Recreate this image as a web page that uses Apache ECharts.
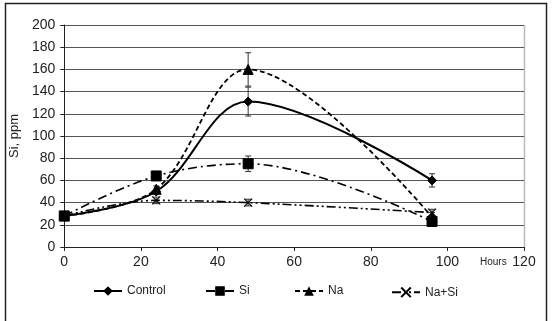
<!DOCTYPE html>
<html>
<head>
<meta charset="utf-8">
<script src="https://cdn.jsdelivr.net/npm/echarts@6/dist/echarts.min.js"></script>
<style>
html,body{margin:0;padding:0;background:#fff;}
#c{width:552px;height:321px;}
</style>
</head>
<body>
<div id="c"></div>
<script>
const hours = [0, 24, 48, 96];
const xTicks = [0, 20, 40, 60, 80, 100, 120];
const yTicks = [0, 20, 40, 60, 80, 100, 120, 140, 160, 180, 200];
const control = [28, 50, 131, 60];
const si = [28, 64, 75, 23];
const na = [28, 52, 160, 27];
const naSi = [28, 42, 40, 31];
const controlErr = [1, 2, 13, 6];
const siErr = [1, 4, 7, 2];
const naErr = [1, 3, 15, 4];
const naSiErr = [1, 3, 3, 3];
const names = ['Control', 'Si', 'Na', 'Na+Si'];

const chart = echarts.init(document.getElementById('c'), null, {renderer: 'canvas'});
const FONT = 'Liberation Sans, Arial, sans-serif';

function errData(vals, errs) {
  return hours.map((h, i) => [h, vals[i] - errs[i], vals[i] + errs[i]]);
}
function errSeries(vals, errs) {
  return {
    type: 'custom',
    silent: true,
    z: 1,
    data: errData(vals, errs),
    renderItem: function (params, api) {
      const x = api.value(0);
      const lo = api.coord([x, api.value(1)]);
      const hi = api.coord([x, api.value(2)]);
      const w = 3;
      const st = {stroke: '#333', lineWidth: 1, fill: null};
      return {
        type: 'group',
        children: [
          {type: 'line', shape: {x1: lo[0], y1: lo[1], x2: hi[0], y2: hi[1]}, style: st},
          {type: 'line', shape: {x1: lo[0] - w, y1: lo[1], x2: lo[0] + w, y2: lo[1]}, style: st},
          {type: 'line', shape: {x1: hi[0] - w, y1: hi[1], x2: hi[0] + w, y2: hi[1]}, style: st}
        ]
      };
    }
  };
}
function lineSeries(name, vals, symbol, size, dash, width) {
  return {
    name: name,
    type: 'line',
    smooth: 0.35,
    z: 3,
    data: hours.map((h, i) => [h, vals[i]]),
    symbol: symbol,
    symbolSize: size,
    showAllSymbol: true,
    itemStyle: {color: '#000', borderColor: '#000'},
    lineStyle: {color: '#000', width: width, type: dash}
  };
}
const xIcon = 'path://M0,0 L10,10 M10,0 L0,10';

function legendAt(name, left) {
  return {
    data: [name],
    left: left,
    top: 280,
    itemWidth: 28,
    itemHeight: 12,
    itemGap: 5,
    textStyle: {fontFamily: FONT, fontSize: 12, color: '#222'}
  };
}

chart.setOption({
  animation: false,
  backgroundColor: '#fff',
  grid: {left: 62, right: 28, top: 25, bottom: 74, show: false},
  legend: [legendAt('Control', 88), legendAt('Si', 200), legendAt('Na', 289), legendAt('Na+Si', 386)],
  xAxis: {
    type: 'value', min: 0, max: 120, interval: 20,
    axisLine: {show: true, lineStyle: {color: '#222', width: 1}},
    axisTick: {show: true, length: 4, lineStyle: {color: '#222'}},
    axisLabel: {fontFamily: FONT, fontSize: 14, color: '#222', margin: 8,
      formatter: v => xTicks.includes(v) ? String(v) : ''},
    splitLine: {show: false}
  },
  yAxis: {
    type: 'value', min: 0, max: 200, interval: 20,
    name: 'Si, ppm', nameLocation: 'middle', nameGap: 32, nameRotate: 90,
    nameTextStyle: {fontFamily: FONT, fontSize: 13, color: '#222'},
    axisLine: {show: true, lineStyle: {color: '#222', width: 1}},
    axisTick: {show: true, length: 4, lineStyle: {color: '#222'}},
    axisLabel: {fontFamily: FONT, fontSize: 14, color: '#222', margin: 9,
      formatter: v => yTicks.includes(v) ? String(v) : ''},
    splitLine: {show: true, lineStyle: {color: '#555', width: 1}}
  },
  graphic: [
    {type: 'rect', shape: {x: 5.5, y: 3.5, width: 541, height: 330},
      style: {fill: null, stroke: '#222', lineWidth: 1.5}, z: 0, silent: true},
    {type: 'line', shape: {x1: 524.5, y1: 25, x2: 524.5, y2: 247},
      style: {stroke: '#bbb', lineWidth: 1.5}, z: 0, silent: true},
    {type: 'text', left: 480, top: 257,
      style: {text: 'Hours', font: '10px ' + FONT, fill: '#222'}}
  ],
  series: [
    errSeries(control, controlErr),
    errSeries(si, siErr),
    errSeries(na, naErr),
    errSeries(naSi, naSiErr),
    lineSeries('Control', control, 'diamond', 9, 'solid', 2),
    lineSeries('Si', si, 'rect', 10, [9, 4, 2, 4], 1.6),
    lineSeries('Na', na, 'triangle', 10, [5, 3], 1.8),
    Object.assign(lineSeries('Na+Si', naSi, xIcon, 8, [9, 3, 2, 3, 2, 3], 1.6),
      {itemStyle: {color: 'none', borderColor: '#000', borderWidth: 1.2}})
  ]
});
</script>
</body>
</html>
